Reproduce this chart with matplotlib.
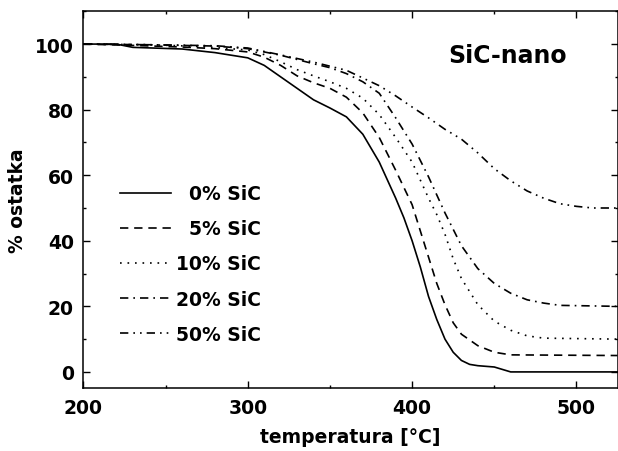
import matplotlib
matplotlib.use("Agg")
import matplotlib.pyplot as plt
from matplotlib.ticker import MultipleLocator

plt.rcParams['font.family'] = ['DejaVu Sans']
plt.rcParams['font.weight'] = 'bold'

# TGA curves: temperature [C] and residue [%]
t_0 = [200, 220, 230, 260, 280, 300, 310, 320, 330, 340, 350, 360, 370, 380,
       390, 395, 400, 405, 410, 415, 420, 425, 430, 435, 440, 450, 460, 525]
y_0 = [100, 100, 99, 98.5, 97.4, 95.8, 93.5, 90, 86.5, 83, 80.5, 77.8, 72.5, 64,
       53, 47, 40, 32, 23, 16, 10, 6, 3.5, 2.3, 1.9, 1.5, 0, 0]

t_5 = [200, 230, 260, 280, 300, 310, 320, 330, 340, 350, 360, 370, 380, 390,
       400, 405, 410, 415, 420, 425, 430, 440, 450, 460, 525]
y_5 = [100, 99.6, 99.1, 98.6, 97.6, 96, 93.5, 90.3, 88.2, 86.5, 83.8, 79, 71.5, 61.5,
       51, 43, 35, 27, 20.5, 15, 11.5, 8, 6, 5.2, 5]

t_10 = [200, 240, 270, 300, 310, 320, 330, 340, 350, 360, 370, 380, 390, 400,
        410, 415, 420, 425, 430, 440, 450, 460, 470, 480, 525]
y_10 = [100, 99.8, 99.3, 98.2, 96.8, 94.6, 92.2, 90.3, 88.5, 86.5, 83.5, 78.5, 71.5, 64,
        53, 48, 42, 34.5, 28.5, 20.5, 15.5, 12.7, 11, 10.3, 10]

t_20 = [200, 240, 280, 300, 320, 340, 350, 360, 370, 380, 390, 400, 410, 420,
        430, 440, 450, 460, 470, 480, 490, 525]
y_20 = [100, 99.8, 99.4, 98.6, 96.6, 94, 92.8, 91, 88.5, 85, 77.5, 69.5, 59.5, 48.5,
        38.5, 31.5, 27, 24, 22, 21, 20.3, 20]

t_50 = [200, 240, 280, 300, 320, 340, 360, 380, 390, 400, 410, 420, 430, 440,
        450, 460, 470, 480, 490, 500, 510, 525]
y_50 = [100, 99.8, 99.5, 98.8, 96.7, 94.5, 92, 87.3, 84.2, 80.8, 77.5, 74, 71, 66.8,
        62, 58.3, 55.2, 53, 51.3, 50.5, 50, 50]

labels = ['\u20070% SiC', '\u20075% SiC', '10% SiC', '20% SiC', '50% SiC']
styles = ['-', (0, (5, 3.5)), (0, (1, 3.5)), (0, (5, 3, 1, 3)), (0, (5, 3, 1, 3, 1, 3))]

fig = plt.figure(figsize=(6.18, 4.52), dpi=100)
ax = fig.add_axes([0.1351, 0.1387, 0.8641, 0.8341])

series = [(t_0, y_0), (t_5, y_5), (t_10, y_10), (t_20, y_20), (t_50, y_50)]
for (t, y), lab, ls in zip(series, labels, styles):
    ax.plot(t, y, color='black', lw=1.2, linestyle=ls, label=lab)

ax.set_xlim(200, 525)
ax.set_ylim(-5, 110)
ax.xaxis.set_major_locator(MultipleLocator(100))
ax.xaxis.set_minor_locator(MultipleLocator(50))
ax.yaxis.set_major_locator(MultipleLocator(20))
ax.yaxis.set_minor_locator(MultipleLocator(10))
ax.tick_params(which='both', direction='in', top=True, right=True,
               labelsize=13.5, width=1)
ax.tick_params(which='major', length=5, pad=7)
ax.tick_params(which='minor', length=2.5)
for s in ax.spines.values():
    s.set_linewidth(1.1)

ax.set_xlabel('temperatura [°C]', fontsize=13.5, fontweight='bold', labelpad=7.5)
ax.set_ylabel('% ostatka', fontsize=13.5, fontweight='bold', labelpad=6)

ax.text(0.795, 0.884, 'SiC-nano', transform=ax.transAxes, fontsize=17,
        fontweight='bold', ha='center', va='center')

leg = ax.legend(loc='center left', bbox_to_anchor=(0.068, 0.33), frameon=False,
                fontsize=13.5, handlelength=2.75, handletextpad=0.27,
                labelspacing=0.86, borderpad=0, borderaxespad=0)

fig.savefig('out.png', dpi=100)
